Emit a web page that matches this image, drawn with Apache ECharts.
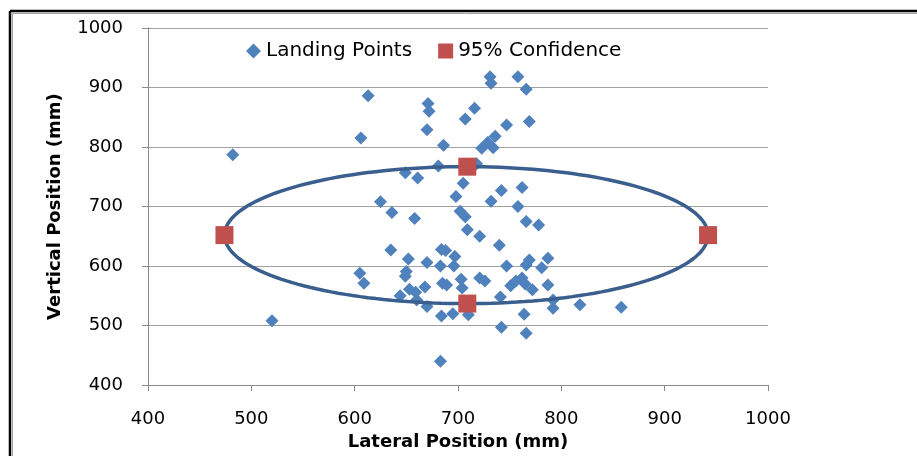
<!DOCTYPE html>
<html>
<head>
<meta charset="utf-8">
<script src="https://cdn.jsdelivr.net/npm/echarts@6/dist/echarts.min.js"></script>
<style>
html,body{margin:0;padding:0;background:#fff;}
#chart{width:917px;height:456px;}
</style>
</head>
<body>
<div id="chart"></div>
<script>
// Landing points: lateral (x) and vertical (y) positions in mm
var landingX = [482,520,613,606,671,672,670,686,681,649,661,625,636,658,705,698,702,707,707,716,
  731,732,758,766,747,769,736,729,723,734,718,742,762,732,758,766,778,709,721,740,
  635,652,670,684,688,697,683,696,605,609,650,649,668,685,689,703,704,653,659,644,
  660,670,684,695,710,683,747,769,766,787,781,721,726,751,756,762,765,772,787,741,
  792,792,818,858,764,742,766];
var landingY = [787,508,886,815,873,860,829,803,768,757,748,708,690,680,739,717,692,683,847,865,
  918,907,918,897,837,843,818,808,798,799,772,727,732,709,700,675,669,661,650,635,
  627,612,606,628,626,616,600,600,588,571,591,583,565,571,568,578,563,561,556,550,
  543,532,516,520,518,440,600,610,602,613,597,580,575,567,575,580,570,560,568,548,
  543,529,535,531,519,497,487];
// 95% confidence extreme points
var confX = [474,709,942,709];
var confY = [652,767,652,537];
// axis ticks
var axisMin = 400, axisMax = 1000, axisStep = 100;

var landing = landingX.map(function(x,i){return [x, landingY[i]];});
var conf = confX.map(function(x,i){return [x, confY[i]];});

// ellipse through the confidence extremes
var cx = (confX[0]+confX[2])/2, rx = (confX[2]-confX[0])/2;
var cy = (confY[1]+confY[3])/2, ry = (confY[1]-confY[3])/2;
var ellipse = [];
for (var k = 0; k <= 180; k++) {
  var t = k/180*2*Math.PI;
  ellipse.push([cx + rx*Math.cos(t), cy + ry*Math.sin(t)]);
}

var FONT = 'DejaVu Sans';
function plain(v){ return String(v); }
var chart = echarts.init(document.getElementById('chart'), null, {renderer:'canvas'});
chart.setOption({
  animation:false,
  backgroundColor:'#fff',
  grid:{left:148, right:149, top:28, bottom:68, containLabel:false},
  legend:{
    left:246, top:41, padding:0,
    itemWidth:15, itemHeight:15, itemGap:26,
    textStyle:{fontFamily:FONT, fontSize:20, color:'#000'},
    data:[{name:'Landing Points', icon:'diamond'},{name:'95% Confidence', icon:'rect'}]
  },
  xAxis:{
    type:'value', min:axisMin, max:axisMax, interval:axisStep,
    name:'Lateral Position (mm)', nameLocation:'middle', nameGap:44,
    nameTextStyle:{fontFamily:FONT, fontSize:18, fontWeight:'bold', color:'#000'},
    axisLine:{show:true, lineStyle:{color:'#898989', width:1}},
    axisTick:{show:true, inside:false, length:6, lineStyle:{color:'#898989'}},
    axisLabel:{margin:25, fontFamily:FONT, fontSize:18, color:'#000', formatter:plain},
    splitLine:{show:false}
  },
  yAxis:{
    type:'value', min:axisMin, max:axisMax, interval:axisStep,
    name:'Vertical Position (mm)', nameLocation:'middle', nameGap:84, nameRotate:90,
    nameTextStyle:{fontFamily:FONT, fontSize:18, fontWeight:'bold', color:'#000'},
    axisLine:{show:true, lineStyle:{color:'#898989', width:1}},
    axisTick:{show:true, inside:false, length:6, lineStyle:{color:'#898989'}},
    axisLabel:{margin:25, fontFamily:FONT, fontSize:18, color:'#000', formatter:plain},
    splitLine:{show:true, lineStyle:{color:'#a0a0a0', width:1}}
  },
  series:[
    {
      name:'Landing Points', type:'scatter', data:landing,
      symbol:'diamond', symbolSize:13, z:2,
      itemStyle:{color:'#4F81BD', opacity:1}
    },
    {
      name:'ellipse', type:'line', data:ellipse, showSymbol:false, symbol:'none',
      smooth:false, z:3, silent:true,
      lineStyle:{color:'#3A5F8E', width:3.5}
    },
    {
      name:'95% Confidence', type:'scatter', data:conf,
      symbol:'rect', symbolSize:18, z:4,
      itemStyle:{color:'#C0504D', opacity:1}
    }
  ],
  graphic:[
    {type:'line', shape:{x1:10, y1:11, x2:917, y2:11}, style:{stroke:'#000', lineWidth:2.5}},
    {type:'line', shape:{x1:10, y1:11, x2:10, y2:456}, style:{stroke:'#000', lineWidth:2.5}},
    {type:'line', shape:{x1:12.5, y1:13.5, x2:917, y2:13.5}, style:{stroke:'#a0a0a0', lineWidth:1}},
    {type:'line', shape:{x1:12.5, y1:13.5, x2:12.5, y2:456}, style:{stroke:'#a0a0a0', lineWidth:1}}
  ]
});
</script>
</body>
</html>
